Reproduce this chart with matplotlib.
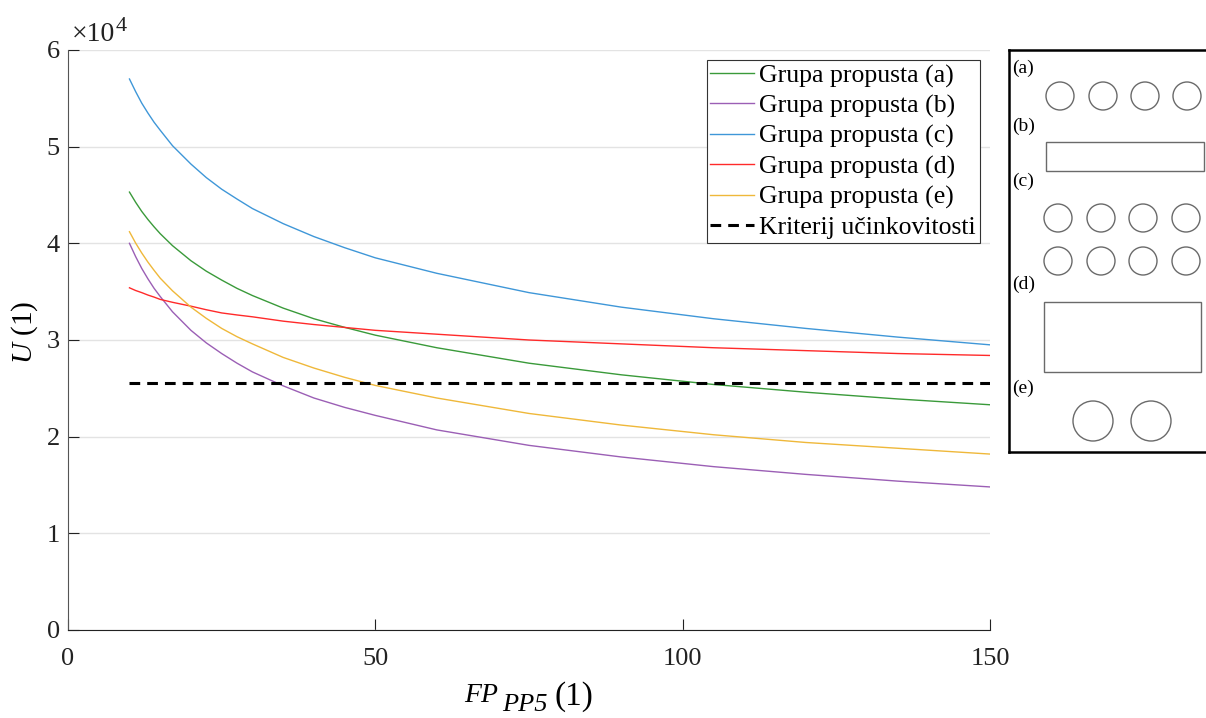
import matplotlib
matplotlib.use("Agg")
import matplotlib.pyplot as plt
from matplotlib.patches import Circle, Rectangle

plt.rcParams['font.family'] = ['Liberation Serif', 'DejaVu Serif']
plt.rcParams['mathtext.fontset'] = 'custom'
plt.rcParams['mathtext.rm'] = 'Liberation Serif'
plt.rcParams['mathtext.it'] = 'Liberation Serif:italic'

# ---- data ----
fp = [10, 11, 12, 13, 14, 15, 17, 20, 22.5, 25, 27.5, 30, 35, 40, 45, 50,
      60, 75, 90, 105, 120, 135, 150]
u_a = [45300, 44250, 43300, 42470, 41710, 41000, 39760, 38200, 37120, 36200, 35340, 34600,
       33300, 32200, 31310, 30500, 29200, 27600, 26400, 25400, 24600, 23900, 23300]
u_b = [40000, 38630, 37400, 36330, 35350, 34500, 32920, 31000, 29700, 28600, 27600, 26700,
       25260, 24000, 23030, 22200, 20700, 19100, 17900, 16900, 16100, 15400, 14800]
u_c = [57000, 55700, 54500, 53480, 52530, 51700, 50100, 48200, 46800, 45600, 44580, 43600,
       42040, 40700, 39550, 38500, 36900, 34900, 33400, 32200, 31200, 30300, 29500]
u_d = [35400, 35120, 34900, 34650, 34440, 34200, 33900, 33500, 33130, 32800, 32590, 32400,
       31950, 31600, 31300, 31000, 30600, 30000, 29600, 29200, 28900, 28600, 28400]
u_e = [41200, 40030, 39000, 38060, 37210, 36400, 35090, 33400, 32240, 31200, 30340, 29600,
       28200, 27100, 26140, 25300, 24000, 22400, 21200, 20200, 19400, 18800, 18200]
crit_x = [10, 150]
crit_u = [25600, 25600]

labels = ['Grupa propusta (a)', 'Grupa propusta (b)', 'Grupa propusta (c)',
          'Grupa propusta (d)', 'Grupa propusta (e)']
crit_label = 'Kriterij učinkovitosti'
colors = ['#3a9a3a', '#9b5fb5', '#3f97d8', '#ff2a2a', '#efb83a']

x_ticks = [0, 50, 100, 150]
y_ticks = [0, 10000, 20000, 30000, 40000, 50000, 60000]
y_tick_labels = ['0', '1', '2', '3', '4', '5', '6']

W, H = 1206, 718
fig = plt.figure(figsize=(W / 100, H / 100), dpi=100)
ax = fig.add_axes([68 / W, (H - 630) / H, (990 - 68) / W, (630 - 50) / H])

for ys, lab, col in zip([u_a, u_b, u_c, u_d, u_e], labels, colors):
    ax.plot(fp, ys, color=col, lw=1.0, label=lab)
ax.plot(crit_x, crit_u, color='black', lw=2.2, ls=(0, (3.5, 2.3)), label=crit_label)

ax.set_xlim(0, 150)
ax.set_ylim(0, 60000)
ax.set_xticks(x_ticks)
ax.set_yticks(y_ticks)
ax.set_yticklabels(y_tick_labels)
ax.tick_params(direction='in', length=8, width=0.8, labelsize=19, colors='#222222')
ax.tick_params(axis='x', pad=13)
ax.tick_params(axis='y', pad=6)
ax.yaxis.grid(True, color='#e3e3e3', lw=1.0)
ax.set_axisbelow(True)
for s in ['top', 'right']:
    ax.spines[s].set_visible(False)
ax.spines['left'].set_color('#555555')
ax.spines['bottom'].set_color('#222222')

def fx(px):
    return px / W
def fy(py):
    return (H - py) / H

# exponent marker
fig.text(fx(72), fy(41), '×10', fontsize=20, ha='left', va='baseline', color='#222222')
fig.text(fx(116), fy(31), '4', fontsize=16, ha='left', va='baseline', color='#222222')

# x label: FP_{PP5} (1)
fig.text(fx(498), fy(702), 'FP', fontsize=20, style='italic', ha='right', va='baseline')
fig.text(fx(502), fy(711), 'PP5', fontsize=19, style='italic', ha='left', va='baseline')
fig.text(fx(555), fy(705), '(1)', fontsize=24, ha='left', va='baseline')

# y label
fig.text(fx(25), fy(332), r'$U$ (1)', fontsize=21, rotation=90, ha='center', va='center')

leg = ax.legend(loc='upper right', fontsize=18.5, frameon=True, fancybox=False,
                edgecolor='#333333', framealpha=1, handlelength=1.7,
                handletextpad=0.2, borderpad=0.15, labelspacing=0.27,
                borderaxespad=0.4)
leg.get_frame().set_linewidth(0.8)

# ---- inset schematic panel ----
ix0, ix1, iy0, iy1 = 1009, 1212, 50, 452
iax = fig.add_axes([ix0 / W, (H - iy1) / H, (ix1 - ix0) / W, (iy1 - iy0) / H])
iax.set_xlim(ix0, ix1)
iax.set_ylim(iy1, iy0)
iax.set_xticks([])
iax.set_yticks([])
for s in iax.spines.values():
    s.set_linewidth(1.8)
    s.set_color('black')

sc = '#6a6a6a'
def circ(x, y, r):
    iax.add_patch(Circle((x, y), r, fill=False, ec=sc, lw=1.0))
def rect(x0, y0, x1, y1):
    iax.add_patch(Rectangle((x0, y0), x1 - x0, y1 - y0, fill=False, ec=sc, lw=1.0))

for cx in [1060, 1103, 1145, 1187]:
    circ(cx, 96, 14)
rect(1046, 142, 1204, 171)
for cy in [218, 261]:
    for cx in [1058, 1101, 1143, 1186]:
        circ(cx, cy, 14)
rect(1044, 302, 1201, 372)
for cx in [1093, 1151]:
    circ(cx, 421, 20)

for lab, ly in [('(a)', 68), ('(b)', 126), ('(c)', 181), ('(d)', 284), ('(e)', 388)]:
    iax.text(1012, ly, lab, fontsize=14, ha='left', va='center')

fig.savefig('out.png', dpi=100)
